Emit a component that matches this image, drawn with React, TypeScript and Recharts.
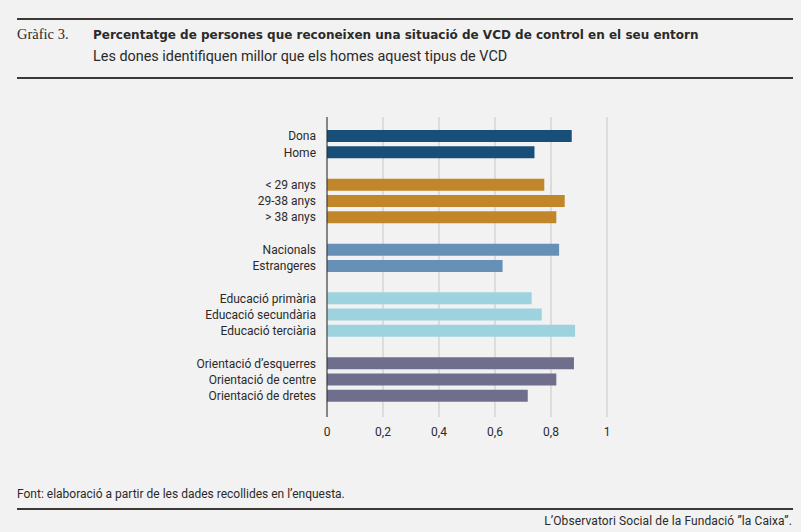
import React from "react";
import { BarChart, Bar, XAxis, YAxis, CartesianGrid, Cell, ReferenceLine } from "recharts";

const sexLabels = ["Dona", "Home"];
const sexValues = [0.874, 0.741];
const ageLabels = ["< 29 anys", "29-38 anys", "> 38 anys"];
const ageValues = [0.776, 0.849, 0.819];
const originLabels = ["Nacionals", "Estrangeres"];
const originValues = [0.829, 0.627];
const eduLabels = ["Educació primària", "Educació secundària", "Educació terciària"];
const eduValues = [0.731, 0.767, 0.886];
const orientLabels = ["Orientació d’esquerres", "Orientació de centre", "Orientació de dretes"];
const orientValues = [0.882, 0.819, 0.717];
const groupColors = ["#174f79", "#c1862a", "#6690b5", "#9cd3de", "#6f6f8d"];
const xTicks = [0, 0.2, 0.4, 0.6, 0.8, 1];

const groups = [
  { labels: sexLabels, values: sexValues },
  { labels: ageLabels, values: ageValues },
  { labels: originLabels, values: originValues },
  { labels: eduLabels, values: eduValues },
  { labels: orientLabels, values: orientValues },
];

type Row = { key: string; label: string; value: number | null; color: string };
const data: Row[] = [];
groups.forEach((g, gi) => {
  if (gi > 0) data.push({ key: `gap-${gi}`, label: "", value: null, color: "none" });
  g.labels.forEach((l, i) => data.push({ key: l, label: l, value: g.values[i], color: groupColors[gi] }));
});

const FONT = "Roboto, 'Noto Sans', sans-serif";
const TEXT = "#2a2a2a";
const RULE = "#3b3835";

const YTick = (props: any) => {
  const { x, y, payload } = props;
  const row = data.find((d) => d.key === payload.value);
  if (!row || !row.label) return null;
  return (
    <text x={x} y={y} dy="0.35em" textAnchor="end" fontSize={12} fontFamily={FONT} fill={TEXT}>
      {row.label}
    </text>
  );
};

export default function App() {
  return (
    <div style={{ position: "absolute", left: 0, top: 0, width: 801, height: 532, background: "#f2f2f2", overflow: "hidden" }}>
      <svg width={801} height={532} style={{ position: "absolute", left: 0, top: 0 }}>
        <rect x={17} y={18} width={776} height={2} fill={RULE} />
        <text x={17} y={39} fontSize={14.5} fontFamily="'Liberation Serif', 'DejaVu Serif', serif" fill={TEXT}>Gràfic 3.</text>
        <text x={93} y={39} fontSize={12} fontWeight={700} fontFamily="'DejaVu Sans', sans-serif" fill={TEXT}>
          Percentatge de persones que reconeixen una situació de VCD de control en el seu entorn
        </text>
        <text x={93} y={61} fontSize={14.4} fontFamily={FONT} fill={TEXT}>
          Les dones identifiquen millor que els homes aquest tipus de VCD
        </text>
        <rect x={17} y={77} width={776} height={2} fill={RULE} />
        <text x={17} y={498} fontSize={12} fontFamily={FONT} fill={TEXT}>
          Font: elaboració a partir de les dades recollides en l’enquesta.
        </text>
        <rect x={17} y={508} width={776} height={2} fill={RULE} />
        <text x={792} y={525} fontSize={12} textAnchor="end" fontFamily={FONT} fill={TEXT} letterSpacing={0.1}>
          L’Observatori Social de la Fundació ”la Caixa”.
        </text>
      </svg>
      <div style={{ position: "absolute", left: 0, top: 0 }}>
        <BarChart
          width={801}
          height={532}
          data={data}
          layout="vertical"
          margin={{ top: 117, right: 194, bottom: 85, left: 0 }}
          barCategoryGap={0}
        >
          <CartesianGrid horizontal={false} stroke="#c6c6c6" strokeWidth={1} />
          <XAxis
            type="number"
            domain={[0, 1]}
            ticks={xTicks}
            axisLine={false}
            tickLine={false}
            tickMargin={4}
            interval={0}
            tickFormatter={(v: number) => String(v).replace(".", ",")}
            tick={{ fontSize: 12, fontFamily: FONT, fill: TEXT }}
          />
          <YAxis
            type="category"
            dataKey="key"
            width={327}
            axisLine={false}
            tickLine={false}
            tickMargin={5}
            interval={0}
            padding={{ top: 11, bottom: 13 }}
            tick={<YTick />}
          />
          <ReferenceLine x={0} stroke="#2f2f2f" strokeWidth={1} />
          <Bar dataKey="value" barSize={12} isAnimationActive={false}>
            {data.map((d) => (
              <Cell key={d.key} fill={d.color} />
            ))}
          </Bar>
        </BarChart>
      </div>
    </div>
  );
}
